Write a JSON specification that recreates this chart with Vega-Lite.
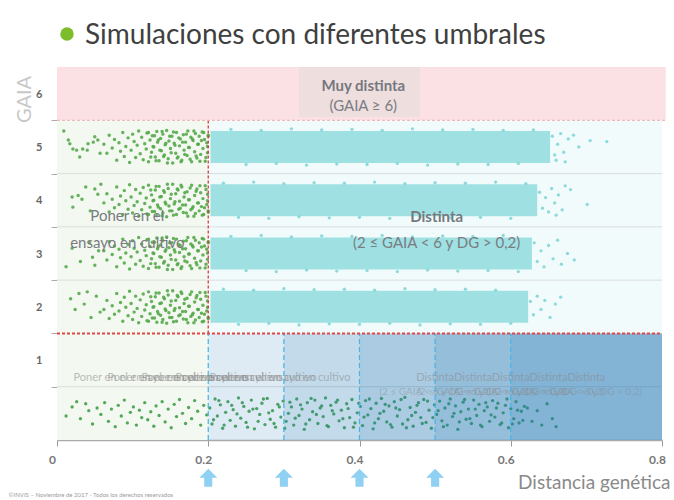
{
"$schema": "https://vega.github.io/schema/vega-lite/v6.json",
"width": 605,
"height": 373,
"autosize": {"type": "none"},
"padding": {"left": 57, "top": 67, "right": 12, "bottom": 60},
"background": "white",
"config": {"view": {"stroke": null}, "font": "Lato"},
"datasets": {
"bg": [
{"x": 0, "x2": 0.805, "y": 5.5, "y2": 6.5, "k": "pink"},
{"x": 0.32, "x2": 0.48, "y": 5.56, "y2": 6.5, "k": "box"},
{"x": 0, "x2": 0.2, "y": -0.5, "y2": 5.5, "k": "gbg"},
{"x": 0.2, "x2": 0.8, "y": 1.5, "y2": 5.5, "k": "cbg"},
{"x": 0.203, "x2": 0.652, "y": 4.7, "y2": 5.3, "k": "cy"},
{"x": 0.203, "x2": 0.635, "y": 3.7, "y2": 4.3, "k": "cy"},
{"x": 0.203, "x2": 0.628, "y": 2.7, "y2": 3.3, "k": "cy"},
{"x": 0.203, "x2": 0.623, "y": 1.7, "y2": 2.3, "k": "cy"}
],
"bands": [
{"x": 0.2, "x2": 0.8, "y": -0.5, "y2": 1.5},
{"x": 0.3, "x2": 0.8, "y": -0.5, "y2": 1.5},
{"x": 0.4, "x2": 0.8, "y": -0.5, "y2": 1.5},
{"x": 0.5, "x2": 0.8, "y": -0.5, "y2": 1.5},
{"x": 0.6, "x2": 0.8, "y": -0.5, "y2": 1.5}
],
"seps": [
{"x": 0, "x2": 0.8, "y": 0.5},
{"x": 0, "x2": 0.8, "y": 2.5},
{"x": 0, "x2": 0.8, "y": 3.5},
{"x": 0, "x2": 0.8, "y": 4.5}
],
"bluelines": [
{"x": 0.2, "y": -0.5, "y2": 1.5},
{"x": 0.3, "y": -0.5, "y2": 1.5},
{"x": 0.4, "y": -0.5, "y2": 1.5},
{"x": 0.5, "y": -0.5, "y2": 1.5},
{"x": 0.6, "y": -0.5, "y2": 1.5}
],
"green": [
{"x":0.009,"y":5.3},{"x":0.015,"y":5.13},{"x":0.017,"y":5.06},{"x":0.021,"y":4.96},{"x":0.026,"y":4.94},{"x":0.03,"y":4.81},{"x":0.034,"y":4.96},{"x":0.04,"y":4.94},{"x":0.041,"y":5.06},{"x":0.048,"y":5.09},{"x":0.05,"y":5.19},{"x":0.054,"y":5.13},{"x":0.057,"y":4.88},
{"x":0.062,"y":5.05},{"x":0.066,"y":4.88},{"x":0.069,"y":5.22},{"x":0.073,"y":4.98},{"x":0.076,"y":5.14},{"x":0.079,"y":4.75},{"x":0.082,"y":5.08},{"x":0.084,"y":4.92},{"x":0.087,"y":5.27},{"x":0.089,"y":4.82},{"x":0.091,"y":5.01},{"x":0.094,"y":5.17},{"x":0.096,"y":4.71},{"x":0.098,"y":4.94},{"x":0.1,"y":5.24},{"x":0.102,"y":5.1},{"x":0.104,"y":4.8},{"x":0.106,"y":5.03},{"x":0.108,"y":5.3},{"x":0.11,"y":4.87},{"x":0.112,"y":5.18},{"x":0.114,"y":4.76},{"x":0.116,"y":5.06},{"x":0.118,"y":4.96},{"x":0.119,"y":5.26},{"x":0.121,"y":4.72},{"x":0.123,"y":5.13},{"x":0.125,"y":4.9},{"x":0.126,"y":5.21},{"x":0.128,"y":5.0},{"x":0.13,"y":4.81},{"x":0.132,"y":5.29},{"x":0.133,"y":5.09},{"x":0.135,"y":4.74},{"x":0.137,"y":5.16},{"x":0.138,"y":4.93},{"x":0.14,"y":5.24},{"x":0.142,"y":4.85},{"x":0.143,"y":5.04},{"x":0.145,"y":5.31},{"x":0.147,"y":4.78},{"x":0.148,"y":5.11},{"x":0.15,"y":4.97},{"x":0.152,"y":5.2},{"x":0.153,"y":4.7},{"x":0.155,"y":5.07},{"x":0.157,"y":4.88},{"x":0.158,"y":5.27},{"x":0.16,"y":4.81},{"x":0.162,"y":5.02},{"x":0.163,"y":5.15},{"x":0.165,"y":4.75},{"x":0.167,"y":5.23},{"x":0.168,"y":4.94},{"x":0.17,"y":5.09},{"x":0.172,"y":4.84},{"x":0.173,"y":5.3},{"x":0.175,"y":4.99},{"x":0.177,"y":5.18},{"x":0.178,"y":4.72},{"x":0.18,"y":5.12},{"x":0.182,"y":4.91},{"x":0.183,"y":5.25},{"x":0.185,"y":4.79},{"x":0.187,"y":5.05},{"x":0.188,"y":5.2},{"x":0.19,"y":4.86},{"x":0.192,"y":5.28},{"x":0.193,"y":4.97},{"x":0.195,"y":5.14},{"x":0.196,"y":4.73},{"x":0.198,"y":5.08},{"x":0.199,"y":4.89},{"x":0.2,"y":5.22},
{"x":0.121,"y":5.27},{"x":0.124,"y":4.81},{"x":0.127,"y":5.01},{"x":0.129,"y":5.21},{"x":0.131,"y":4.74},{"x":0.134,"y":5.13},{"x":0.136,"y":4.94},{"x":0.139,"y":5.29},{"x":0.141,"y":4.82},{"x":0.144,"y":5.07},{"x":0.146,"y":4.7},{"x":0.149,"y":5.2},{"x":0.151,"y":4.89},{"x":0.154,"y":5.28},{"x":0.156,"y":5.03},{"x":0.159,"y":4.79},{"x":0.161,"y":5.17},{"x":0.164,"y":4.72},{"x":0.166,"y":5.09},{"x":0.169,"y":4.86},{"x":0.171,"y":5.24},{"x":0.174,"y":4.99},{"x":0.176,"y":4.77},{"x":0.179,"y":5.15},{"x":0.181,"y":5.3},{"x":0.184,"y":4.83},{"x":0.186,"y":5.05},{"x":0.189,"y":4.73},{"x":0.191,"y":5.12},{"x":0.194,"y":5.27},{"x":0.197,"y":4.8},{"x":0.199,"y":5.01},{"x":0.2,"y":5.2},
{"x":0.02,"y":4.06},{"x":0.021,"y":3.87},{"x":0.028,"y":4.09},{"x":0.033,"y":4.02},{"x":0.038,"y":4.25},{"x":0.044,"y":3.8},{"x":0.05,"y":4.21},{"x":0.054,"y":4.11},{"x":0.058,"y":4.3},
{"x":0.062,"y":3.95},{"x":0.066,"y":4.12},{"x":0.069,"y":3.78},{"x":0.073,"y":4.02},{"x":0.076,"y":3.86},{"x":0.079,"y":4.25},{"x":0.082,"y":3.92},{"x":0.084,"y":4.08},{"x":0.087,"y":3.73},{"x":0.089,"y":4.18},{"x":0.091,"y":3.99},{"x":0.094,"y":3.83},{"x":0.096,"y":4.29},{"x":0.098,"y":4.06},{"x":0.1,"y":3.76},{"x":0.102,"y":3.9},{"x":0.104,"y":4.2},{"x":0.106,"y":3.97},{"x":0.108,"y":3.7},{"x":0.11,"y":4.13},{"x":0.112,"y":3.82},{"x":0.114,"y":4.24},{"x":0.116,"y":3.94},{"x":0.118,"y":4.04},{"x":0.119,"y":3.74},{"x":0.121,"y":4.28},{"x":0.123,"y":3.87},{"x":0.125,"y":4.1},{"x":0.126,"y":3.79},{"x":0.128,"y":4.0},{"x":0.13,"y":4.19},{"x":0.132,"y":3.71},{"x":0.133,"y":3.91},{"x":0.135,"y":4.26},{"x":0.137,"y":3.84},{"x":0.138,"y":4.07},{"x":0.14,"y":3.76},{"x":0.142,"y":4.15},{"x":0.143,"y":3.96},{"x":0.145,"y":3.69},{"x":0.147,"y":4.22},{"x":0.148,"y":3.89},{"x":0.15,"y":4.03},{"x":0.152,"y":3.8},{"x":0.153,"y":4.3},{"x":0.155,"y":3.93},{"x":0.157,"y":4.12},{"x":0.158,"y":3.73},{"x":0.16,"y":4.19},{"x":0.162,"y":3.98},{"x":0.163,"y":3.85},{"x":0.165,"y":4.25},{"x":0.167,"y":3.77},{"x":0.168,"y":4.06},{"x":0.17,"y":3.91},{"x":0.172,"y":4.16},{"x":0.173,"y":3.7},{"x":0.175,"y":4.01},{"x":0.177,"y":3.82},{"x":0.178,"y":4.28},{"x":0.18,"y":3.88},{"x":0.182,"y":4.09},{"x":0.183,"y":3.75},{"x":0.185,"y":4.21},{"x":0.187,"y":3.95},{"x":0.188,"y":3.8},{"x":0.19,"y":4.14},{"x":0.192,"y":3.72},{"x":0.193,"y":4.03},{"x":0.195,"y":3.86},{"x":0.196,"y":4.27},{"x":0.198,"y":3.92},{"x":0.199,"y":4.11},{"x":0.2,"y":3.78},
{"x":0.121,"y":3.73},{"x":0.124,"y":4.19},{"x":0.127,"y":3.99},{"x":0.129,"y":3.79},{"x":0.131,"y":4.26},{"x":0.134,"y":3.87},{"x":0.136,"y":4.06},{"x":0.139,"y":3.71},{"x":0.141,"y":4.18},{"x":0.144,"y":3.93},{"x":0.146,"y":4.3},{"x":0.149,"y":3.8},{"x":0.151,"y":4.11},{"x":0.154,"y":3.72},{"x":0.156,"y":3.97},{"x":0.159,"y":4.21},{"x":0.161,"y":3.83},{"x":0.164,"y":4.28},{"x":0.166,"y":3.91},{"x":0.169,"y":4.14},{"x":0.171,"y":3.76},{"x":0.174,"y":4.01},{"x":0.176,"y":4.23},{"x":0.179,"y":3.85},{"x":0.181,"y":3.7},{"x":0.184,"y":4.17},{"x":0.186,"y":3.95},{"x":0.189,"y":4.27},{"x":0.191,"y":3.88},{"x":0.194,"y":3.73},{"x":0.197,"y":4.2},{"x":0.199,"y":3.99},{"x":0.2,"y":3.8},
{"x":0.012,"y":2.75},{"x":0.02,"y":3.1},{"x":0.031,"y":2.85},{"x":0.043,"y":3.2},{"x":0.047,"y":2.93},{"x":0.05,"y":2.78},{"x":0.055,"y":3.05},
{"x":0.062,"y":3.05},{"x":0.066,"y":2.88},{"x":0.069,"y":3.22},{"x":0.073,"y":2.98},{"x":0.076,"y":3.14},{"x":0.079,"y":2.75},{"x":0.082,"y":3.08},{"x":0.084,"y":2.92},{"x":0.087,"y":3.27},{"x":0.089,"y":2.82},{"x":0.091,"y":3.01},{"x":0.094,"y":3.17},{"x":0.096,"y":2.71},{"x":0.098,"y":2.94},{"x":0.1,"y":3.24},{"x":0.102,"y":3.1},{"x":0.104,"y":2.8},{"x":0.106,"y":3.03},{"x":0.108,"y":3.3},{"x":0.11,"y":2.87},{"x":0.112,"y":3.18},{"x":0.114,"y":2.76},{"x":0.116,"y":3.06},{"x":0.118,"y":2.96},{"x":0.119,"y":3.26},{"x":0.121,"y":2.72},{"x":0.123,"y":3.13},{"x":0.125,"y":2.9},{"x":0.126,"y":3.21},{"x":0.128,"y":3.0},{"x":0.13,"y":2.81},{"x":0.132,"y":3.29},{"x":0.133,"y":3.09},{"x":0.135,"y":2.74},{"x":0.137,"y":3.16},{"x":0.138,"y":2.93},{"x":0.14,"y":3.24},{"x":0.142,"y":2.85},{"x":0.143,"y":3.04},{"x":0.145,"y":3.31},{"x":0.147,"y":2.78},{"x":0.148,"y":3.11},{"x":0.15,"y":2.97},{"x":0.152,"y":3.2},{"x":0.153,"y":2.7},{"x":0.155,"y":3.07},{"x":0.157,"y":2.88},{"x":0.158,"y":3.27},{"x":0.16,"y":2.81},{"x":0.162,"y":3.02},{"x":0.163,"y":3.15},{"x":0.165,"y":2.75},{"x":0.167,"y":3.23},{"x":0.168,"y":2.94},{"x":0.17,"y":3.09},{"x":0.172,"y":2.84},{"x":0.173,"y":3.3},{"x":0.175,"y":2.99},{"x":0.177,"y":3.18},{"x":0.178,"y":2.72},{"x":0.18,"y":3.12},{"x":0.182,"y":2.91},{"x":0.183,"y":3.25},{"x":0.185,"y":2.79},{"x":0.187,"y":3.05},{"x":0.188,"y":3.2},{"x":0.19,"y":2.86},{"x":0.192,"y":3.28},{"x":0.193,"y":2.97},{"x":0.195,"y":3.14},{"x":0.196,"y":2.73},{"x":0.198,"y":3.08},{"x":0.199,"y":2.89},{"x":0.2,"y":3.22},
{"x":0.121,"y":3.27},{"x":0.124,"y":2.81},{"x":0.127,"y":3.01},{"x":0.129,"y":3.21},{"x":0.131,"y":2.74},{"x":0.134,"y":3.13},{"x":0.136,"y":2.94},{"x":0.139,"y":3.29},{"x":0.141,"y":2.82},{"x":0.144,"y":3.07},{"x":0.146,"y":2.7},{"x":0.149,"y":3.2},{"x":0.151,"y":2.89},{"x":0.154,"y":3.28},{"x":0.156,"y":3.03},{"x":0.159,"y":2.79},{"x":0.161,"y":3.17},{"x":0.164,"y":2.72},{"x":0.166,"y":3.09},{"x":0.169,"y":2.86},{"x":0.171,"y":3.24},{"x":0.174,"y":2.99},{"x":0.176,"y":2.77},{"x":0.179,"y":3.15},{"x":0.181,"y":3.3},{"x":0.184,"y":2.83},{"x":0.186,"y":3.05},{"x":0.189,"y":2.73},{"x":0.191,"y":3.12},{"x":0.194,"y":3.27},{"x":0.197,"y":2.8},{"x":0.199,"y":3.01},{"x":0.2,"y":3.2},
{"x":0.018,"y":2.15},{"x":0.024,"y":1.95},{"x":0.029,"y":2.25},{"x":0.036,"y":2.05},{"x":0.04,"y":2.28},{"x":0.045,"y":1.8},{"x":0.052,"y":2.2},{"x":0.057,"y":1.9},
{"x":0.062,"y":1.95},{"x":0.066,"y":2.12},{"x":0.069,"y":1.78},{"x":0.073,"y":2.02},{"x":0.076,"y":1.86},{"x":0.079,"y":2.25},{"x":0.082,"y":1.92},{"x":0.084,"y":2.08},{"x":0.087,"y":1.73},{"x":0.089,"y":2.18},{"x":0.091,"y":1.99},{"x":0.094,"y":1.83},{"x":0.096,"y":2.29},{"x":0.098,"y":2.06},{"x":0.1,"y":1.76},{"x":0.102,"y":1.9},{"x":0.104,"y":2.2},{"x":0.106,"y":1.97},{"x":0.108,"y":1.7},{"x":0.11,"y":2.13},{"x":0.112,"y":1.82},{"x":0.114,"y":2.24},{"x":0.116,"y":1.94},{"x":0.118,"y":2.04},{"x":0.119,"y":1.74},{"x":0.121,"y":2.28},{"x":0.123,"y":1.87},{"x":0.125,"y":2.1},{"x":0.126,"y":1.79},{"x":0.128,"y":2.0},{"x":0.13,"y":2.19},{"x":0.132,"y":1.71},{"x":0.133,"y":1.91},{"x":0.135,"y":2.26},{"x":0.137,"y":1.84},{"x":0.138,"y":2.07},{"x":0.14,"y":1.76},{"x":0.142,"y":2.15},{"x":0.143,"y":1.96},{"x":0.145,"y":1.69},{"x":0.147,"y":2.22},{"x":0.148,"y":1.89},{"x":0.15,"y":2.03},{"x":0.152,"y":1.8},{"x":0.153,"y":2.3},{"x":0.155,"y":1.93},{"x":0.157,"y":2.12},{"x":0.158,"y":1.73},{"x":0.16,"y":2.19},{"x":0.162,"y":1.98},{"x":0.163,"y":1.85},{"x":0.165,"y":2.25},{"x":0.167,"y":1.77},{"x":0.168,"y":2.06},{"x":0.17,"y":1.91},{"x":0.172,"y":2.16},{"x":0.173,"y":1.7},{"x":0.175,"y":2.01},{"x":0.177,"y":1.82},{"x":0.178,"y":2.28},{"x":0.18,"y":1.88},{"x":0.182,"y":2.09},{"x":0.183,"y":1.75},{"x":0.185,"y":2.21},{"x":0.187,"y":1.95},{"x":0.188,"y":1.8},{"x":0.19,"y":2.14},{"x":0.192,"y":1.72},{"x":0.193,"y":2.03},{"x":0.195,"y":1.86},{"x":0.196,"y":2.27},{"x":0.198,"y":1.92},{"x":0.199,"y":2.11},{"x":0.2,"y":1.78},
{"x":0.121,"y":1.73},{"x":0.124,"y":2.19},{"x":0.127,"y":1.99},{"x":0.129,"y":1.79},{"x":0.131,"y":2.26},{"x":0.134,"y":1.87},{"x":0.136,"y":2.06},{"x":0.139,"y":1.71},{"x":0.141,"y":2.18},{"x":0.144,"y":1.93},{"x":0.146,"y":2.3},{"x":0.149,"y":1.8},{"x":0.151,"y":2.11},{"x":0.154,"y":1.72},{"x":0.156,"y":1.97},{"x":0.159,"y":2.21},{"x":0.161,"y":1.83},{"x":0.164,"y":2.28},{"x":0.166,"y":1.91},{"x":0.169,"y":2.14},{"x":0.171,"y":1.76},{"x":0.174,"y":2.01},{"x":0.176,"y":2.23},{"x":0.179,"y":1.85},{"x":0.181,"y":1.7},{"x":0.184,"y":2.17},{"x":0.186,"y":1.95},{"x":0.189,"y":2.27},{"x":0.191,"y":1.88},{"x":0.194,"y":1.73},{"x":0.197,"y":2.2},{"x":0.199,"y":1.99},{"x":0.2,"y":1.8}
],
"tail": [
{"x":0.655,"y":5.2},{"x":0.658,"y":4.85},{"x":0.66,"y":4.75},{"x":0.662,"y":5.05},{"x":0.666,"y":5.25},{"x":0.67,"y":4.9},{"x":0.672,"y":4.72},{"x":0.676,"y":5.15},{"x":0.683,"y":5.22},{"x":0.69,"y":5.0},{"x":0.705,"y":5.12},{"x":0.727,"y":5.1},
{"x":0.638,"y":4.15},{"x":0.642,"y":3.85},{"x":0.646,"y":4.05},{"x":0.65,"y":3.78},{"x":0.654,"y":4.22},{"x":0.658,"y":3.95},{"x":0.66,"y":3.72},{"x":0.663,"y":4.1},{"x":0.668,"y":3.82},{"x":0.672,"y":4.27},{"x":0.679,"y":4.2},{"x":0.701,"y":3.92},
{"x":0.631,"y":3.2},{"x":0.635,"y":2.85},{"x":0.64,"y":3.05},{"x":0.644,"y":2.75},{"x":0.65,"y":3.15},{"x":0.656,"y":2.9},{"x":0.662,"y":3.25},{"x":0.667,"y":2.8},{"x":0.675,"y":3.0},{"x":0.684,"y":2.88},
{"x":0.626,"y":2.1},{"x":0.63,"y":1.85},{"x":0.635,"y":2.2},{"x":0.64,"y":1.95},{"x":0.645,"y":2.12},{"x":0.652,"y":1.8},{"x":0.659,"y":2.05},{"x":0.666,"y":2.18},
{"x":0.23,"y":5.33},{"x":0.27,"y":5.31},{"x":0.31,"y":5.34},{"x":0.35,"y":5.32},{"x":0.39,"y":5.33},{"x":0.43,"y":5.31},{"x":0.47,"y":5.34},{"x":0.51,"y":5.32},{"x":0.55,"y":5.33},{"x":0.59,"y":5.31},{"x":0.63,"y":5.32},
{"x":0.25,"y":4.67},{"x":0.29,"y":4.69},{"x":0.33,"y":4.66},{"x":0.37,"y":4.68},{"x":0.41,"y":4.67},{"x":0.45,"y":4.69},{"x":0.49,"y":4.66},{"x":0.53,"y":4.68},{"x":0.57,"y":4.67},{"x":0.61,"y":4.69},
{"x":0.22,"y":4.32},{"x":0.26,"y":4.34},{"x":0.3,"y":4.31},{"x":0.34,"y":4.33},{"x":0.38,"y":4.32},{"x":0.42,"y":4.34},{"x":0.46,"y":4.31},{"x":0.5,"y":4.33},{"x":0.54,"y":4.32},{"x":0.58,"y":4.34},{"x":0.62,"y":4.31},
{"x":0.24,"y":3.68},{"x":0.28,"y":3.66},{"x":0.32,"y":3.69},{"x":0.36,"y":3.67},{"x":0.4,"y":3.68},{"x":0.44,"y":3.66},{"x":0.48,"y":3.69},{"x":0.52,"y":3.67},{"x":0.56,"y":3.68},{"x":0.6,"y":3.66},
{"x":0.23,"y":3.32},{"x":0.27,"y":3.34},{"x":0.31,"y":3.31},{"x":0.35,"y":3.33},{"x":0.39,"y":3.32},{"x":0.43,"y":3.34},{"x":0.47,"y":3.31},{"x":0.51,"y":3.33},{"x":0.55,"y":3.32},{"x":0.59,"y":3.34},
{"x":0.25,"y":2.68},{"x":0.29,"y":2.66},{"x":0.33,"y":2.69},{"x":0.37,"y":2.67},{"x":0.41,"y":2.68},{"x":0.45,"y":2.66},{"x":0.49,"y":2.69},{"x":0.53,"y":2.67},{"x":0.57,"y":2.68},{"x":0.61,"y":2.66},
{"x":0.22,"y":2.33},{"x":0.26,"y":2.31},{"x":0.3,"y":2.34},{"x":0.34,"y":2.32},{"x":0.38,"y":2.33},{"x":0.42,"y":2.31},{"x":0.46,"y":2.34},{"x":0.5,"y":2.32},{"x":0.54,"y":2.33},{"x":0.58,"y":2.31},
{"x":0.24,"y":1.67},{"x":0.28,"y":1.69},{"x":0.32,"y":1.66},{"x":0.36,"y":1.68},{"x":0.4,"y":1.67},{"x":0.44,"y":1.69},{"x":0.48,"y":1.66},{"x":0.52,"y":1.68},{"x":0.56,"y":1.67},{"x":0.6,"y":1.69}
],
"bottom": [
{"x":0.012,"y":-0.05},{"x":0.02,"y":0.12},{"x":0.026,"y":0.22},{"x":0.031,"y":-0.1},{"x":0.038,"y":0.18},{"x":0.042,"y":0.05},{"x":0.047,"y":-0.2},{"x":0.053,"y":0.1},{"x":0.058,"y":-0.02},{"x":0.063,"y":0.2},{"x":0.068,"y":-0.15},{"x":0.072,"y":0.08},{"x":0.077,"y":-0.25},{"x":0.081,"y":0.15},{"x":0.085,"y":-0.05},{"x":0.089,"y":0.25},{"x":0.093,"y":-0.18},{"x":0.097,"y":0.02},{"x":0.101,"y":0.12},{"x":0.105,"y":-0.22},{"x":0.109,"y":0.06},{"x":0.112,"y":-0.08},{"x":0.116,"y":0.2},{"x":0.12,"y":-0.12},{"x":0.124,"y":0.03},{"x":0.128,"y":-0.24},{"x":0.131,"y":0.14},{"x":0.135,"y":-0.04},{"x":0.139,"y":0.22},{"x":0.143,"y":-0.16},{"x":0.147,"y":0.08},{"x":0.151,"y":-0.27},{"x":0.155,"y":0.17},{"x":0.158,"y":-0.06},{"x":0.162,"y":0.26},{"x":0.166,"y":0.0},{"x":0.17,"y":-0.19},{"x":0.174,"y":0.11},{"x":0.178,"y":-0.1},{"x":0.182,"y":0.24},{"x":0.186,"y":0.04},{"x":0.19,"y":-0.22},{"x":0.194,"y":0.15},{"x":0.198,"y":-0.03},
{"x":0.202,"y":0.1},{"x":0.205,"y":-0.2},{"x":0.209,"y":0.27},{"x":0.212,"y":-0.05},{"x":0.216,"y":0.16},{"x":0.219,"y":-0.28},{"x":0.223,"y":0.02},{"x":0.226,"y":0.22},{"x":0.229,"y":-0.13},{"x":0.233,"y":0.07},{"x":0.236,"y":-0.24},{"x":0.24,"y":0.29},{"x":0.243,"y":-0.09},{"x":0.247,"y":0.13},{"x":0.25,"y":-0.17},{"x":0.254,"y":0.04},{"x":0.257,"y":0.25},{"x":0.261,"y":-0.29},{"x":0.264,"y":0.09},{"x":0.268,"y":-0.02},{"x":0.271,"y":0.19},{"x":0.275,"y":-0.21},{"x":0.278,"y":0.28},{"x":0.282,"y":-0.11},{"x":0.285,"y":0.05},{"x":0.289,"y":-0.26},{"x":0.292,"y":0.17},{"x":0.296,"y":-0.07},{"x":0.299,"y":0.23},{"x":0.303,"y":-0.15},{"x":0.306,"y":0.0},{"x":0.31,"y":0.12},{"x":0.313,"y":-0.22},{"x":0.317,"y":0.27},{"x":0.32,"y":-0.04},{"x":0.324,"y":0.08},{"x":0.327,"y":-0.3},{"x":0.331,"y":0.2},{"x":0.334,"y":-0.12},{"x":0.338,"y":0.03},{"x":0.341,"y":0.25},{"x":0.345,"y":-0.19},{"x":0.348,"y":0.1},{"x":0.352,"y":-0.06},{"x":0.355,"y":0.29},{"x":0.359,"y":-0.25},{"x":0.362,"y":0.15},{"x":0.366,"y":-0.01},{"x":0.369,"y":0.21},{"x":0.373,"y":-0.14},{"x":0.376,"y":0.06},{"x":0.38,"y":-0.27},{"x":0.383,"y":0.18},{"x":0.387,"y":-0.08},{"x":0.39,"y":0.26},{"x":0.394,"y":-0.18},{"x":0.397,"y":0.01},{"x":0.401,"y":0.13},{"x":0.404,"y":-0.23},{"x":0.408,"y":0.24},{"x":0.411,"y":-0.03},{"x":0.415,"y":0.09},{"x":0.418,"y":-0.29},{"x":0.422,"y":0.19},{"x":0.425,"y":-0.1},{"x":0.429,"y":0.28},{"x":0.432,"y":0.04},{"x":0.436,"y":-0.16},{"x":0.439,"y":0.14},{"x":0.443,"y":-0.26},{"x":0.446,"y":0.22},{"x":0.45,"y":-0.05},{"x":0.453,"y":0.07},{"x":0.457,"y":-0.2},{"x":0.46,"y":0.3},{"x":0.464,"y":-0.12},{"x":0.467,"y":0.11},{"x":0.471,"y":-0.24},{"x":0.474,"y":0.02},{"x":0.478,"y":0.2},{"x":0.481,"y":-0.08},{"x":0.485,"y":0.26},{"x":0.488,"y":-0.17},{"x":0.492,"y":0.06},{"x":0.495,"y":-0.28},{"x":0.499,"y":0.16},{"x":0.502,"y":-0.02},{"x":0.506,"y":0.23},{"x":0.509,"y":-0.14},{"x":0.513,"y":0.1},{"x":0.516,"y":-0.22},{"x":0.52,"y":0.27},{"x":0.523,"y":-0.06},{"x":0.527,"y":0.14},{"x":0.53,"y":-0.3},{"x":0.534,"y":0.03},{"x":0.537,"y":0.21},{"x":0.541,"y":-0.11},{"x":0.544,"y":0.08},{"x":0.548,"y":-0.19},{"x":0.551,"y":0.25},{"x":0.555,"y":-0.04},{"x":0.558,"y":0.17},{"x":0.562,"y":-0.25},{"x":0.565,"y":0.05},{"x":0.569,"y":0.12},{"x":0.572,"y":-0.15},{"x":0.576,"y":0.24},{"x":0.579,"y":-0.07},{"x":0.583,"y":0.19},{"x":0.586,"y":-0.21},{"x":0.59,"y":0.01},{"x":0.593,"y":0.15},{"x":0.597,"y":-0.27},{"x":0.6,"y":0.09},{"x":0.604,"y":-0.1},{"x":0.607,"y":0.22},{"x":0.611,"y":-0.18},{"x":0.614,"y":0.04},{"x":0.618,"y":0.13},
{"x":0.207,"y":-0.12},{"x":0.214,"y":0.24},{"x":0.221,"y":-0.22},{"x":0.231,"y":0.15},{"x":0.238,"y":-0.01},{"x":0.245,"y":0.2},{"x":0.252,"y":-0.26},{"x":0.259,"y":0.08},{"x":0.266,"y":-0.15},{"x":0.273,"y":0.27},{"x":0.28,"y":0.01},{"x":0.287,"y":-0.19},{"x":0.294,"y":0.12},{"x":0.301,"y":-0.28},{"x":0.308,"y":0.21},{"x":0.315,"y":-0.09},{"x":0.322,"y":0.16},{"x":0.329,"y":-0.2},{"x":0.336,"y":0.28},{"x":0.343,"y":-0.02},{"x":0.35,"y":0.14},{"x":0.357,"y":-0.23},{"x":0.364,"y":0.05},{"x":0.371,"y":0.25},{"x":0.378,"y":-0.1},{"x":0.385,"y":0.09},{"x":0.392,"y":-0.26},{"x":0.399,"y":0.19},{"x":0.406,"y":-0.07},{"x":0.413,"y":0.27},{"x":0.42,"y":-0.18},{"x":0.427,"y":0.0},{"x":0.434,"y":0.17},{"x":0.441,"y":-0.21},{"x":0.448,"y":0.1},{"x":0.455,"y":0.26},{"x":0.462,"y":-0.27},{"x":0.469,"y":-0.04},{"x":0.476,"y":0.15},{"x":0.483,"y":-0.19},{"x":0.49,"y":0.23},{"x":0.497,"y":-0.08},{"x":0.504,"y":0.05},{"x":0.511,"y":-0.25},{"x":0.518,"y":0.18},{"x":0.525,"y":0.0},{"x":0.532,"y":-0.16},{"x":0.539,"y":0.26},{"x":0.546,"y":-0.1},{"x":0.553,"y":0.08},{"x":0.56,"y":-0.22},{"x":0.567,"y":0.2},{"x":0.574,"y":-0.03},{"x":0.581,"y":0.1},{"x":0.588,"y":-0.18},{"x":0.595,"y":0.27},{"x":0.602,"y":-0.2},{"x":0.609,"y":0.06},{"x":0.616,"y":-0.13},
{"x":0.622,"y":0.1},{"x":0.628,"y":-0.15},{"x":0.635,"y":0.05},{"x":0.641,"y":-0.22},{"x":0.648,"y":0.18},{"x":0.655,"y":-0.1},{"x":0.66,"y":-0.25}
],
"labels": [
{"t": "Simulaciones con diferentes umbrales", "x": 0.037, "y": 6.93, "k": "t"},
{"t": "Muy distinta", "x": 0.405, "y": 6.14, "k": "b"},
{"t": "Distinta", "x": 0.502, "y": 3.68, "k": "b"},
{"t": "(GAIA ≥ 6)", "x": 0.405, "y": 5.77, "k": "n"},
{"t": "(2 ≤ GAIA < 6 y DG > 0,2)", "x": 0.502, "y": 3.2, "k": "n"},
{"t": "Poner en el", "x": 0.093, "y": 3.7, "k": "n"},
{"t": "ensayo en cultivo", "x": 0.093, "y": 3.2, "k": "n"},
{"t": "Poner en el ensayo en cultivo", "x": 0.115, "y": 0.66, "k": "g"},
{"t": "Poner en el ensayo en cultivo", "x": 0.16, "y": 0.66, "k": "g"},
{"t": "Poner en el ensayo en cultivo", "x": 0.205, "y": 0.66, "k": "g"},
{"t": "Poner en el ensayo en cultivo", "x": 0.25, "y": 0.66, "k": "g"},
{"t": "Poner en el ensayo en cultivo", "x": 0.295, "y": 0.66, "k": "g"},
{"t": "Distinta", "x": 0.5, "y": 0.66, "k": "g"},
{"t": "Distinta", "x": 0.55, "y": 0.66, "k": "g"},
{"t": "Distinta", "x": 0.6, "y": 0.66, "k": "g"},
{"t": "Distinta", "x": 0.65, "y": 0.66, "k": "g"},
{"t": "Distinta", "x": 0.7, "y": 0.66, "k": "g"},
{"t": "(2 ≤ GAIA < 6 y DG > 0,2)", "x": 0.5, "y": 0.4, "k": "s"},
{"t": "(2 ≤ GAIA < 6 y DG > 0,2)", "x": 0.55, "y": 0.4, "k": "s"},
{"t": "(2 ≤ GAIA < 6 y DG > 0,2)", "x": 0.6, "y": 0.4, "k": "s"},
{"t": "(2 ≤ GAIA < 6 y DG > 0,2)", "x": 0.65, "y": 0.4, "k": "s"},
{"t": "(2 ≤ GAIA < 6 y DG > 0,2)", "x": 0.7, "y": 0.4, "k": "s"},
{"t": "©INVIS – Noviembre de 2017 - Todos los derechos reservados", "x": -0.064, "y": -1.53, "k": "f"}
],
"arrows": [
{"x": 0.2, "y": -1.21}, {"x": 0.3, "y": -1.21}, {"x": 0.4, "y": -1.21}, {"x": 0.5, "y": -1.21}
],
"bullet": [{"x": 0.0132, "y": 7.12}]
},
"encoding": {
"x": {"field": "x", "type": "quantitative", "scale": {"domain": [0, 0.8], "nice": false, "zero": false},
  "axis": {"values": [0, 0.2, 0.4, 0.6, 0.8], "labelExpr": "datum.value == 0 ? '0' : format(datum.value, '.1f')", "grid": false, "labelFlush": false, "labelFontSize": 12, "labelColor": "#777777", "labelFontWeight": "bold", "labelPadding": 8, "labelOffset": -5, "tickSize": 6, "tickColor": "#999999", "domainColor": "#aaaaaa", "domainWidth": 1.5,
   "title": "Distancia genética", "titleFontSize": 19, "titleFontWeight": "normal", "titleColor": "#8a8a8a", "titleX": 613, "titleY": 48, "titleAlign": "right", "titleAnchor": null, "titleBaseline": "alphabetic"}},
"y": {"field": "y", "type": "quantitative", "scale": {"domain": [-0.5, 6.5], "nice": false, "zero": false},
  "axis": {"values": [0.5, 1.5, 2.5, 3.5, 4.5, 5.5], "labelExpr": "format(datum.value + 0.5, 'd')", "labelOffset": -26, "grid": false, "labelFontSize": 11, "labelColor": "#666666", "labelFontWeight": "bold", "labelPadding": 9, "tickSize": 6, "tickColor": "#aaaaaa", "domainColor": "#bbbbbb", "domainWidth": 1,
   "title": "GAIA", "titleFontSize": 20, "titleFontWeight": "normal", "titleColor": "#c8c8c8", "titleX": -33, "titleY": 32, "titleAngle": -90, "titleAlign": "center", "titleBaseline": "middle"}}
},
"layer": [
{"data": {"name": "bg"}, "mark": {"type": "rect"},
 "encoding": {"x2": {"field": "x2"}, "y2": {"field": "y2"},
  "color": {"field": "k", "type": "nominal", "legend": null, "scale": {"domain": ["pink", "box", "gbg", "cbg", "cy"], "range": ["#fbe1e4", "#efdede", "#f3f8f0", "#f2fbfb", "#9fe1e2"]}}}},
{"data": {"name": "seps"}, "mark": {"type": "rule", "color": "#dddddd", "strokeWidth": 1}, "encoding": {"x2": {"field": "x2"}}},
{"data": {"name": "tail"}, "mark": {"type": "circle", "color": "#86d8da", "size": 11, "opacity": 0.95}, "encoding": {}},
{"data": {"name": "green"}, "mark": {"type": "circle", "color": "#55a94b", "size": 12, "opacity": 0.9}, "encoding": {}},
{"data": {"name": "bottom"}, "mark": {"type": "circle", "color": "#3f9e4a", "size": 11, "opacity": 0.9}, "encoding": {}},
{"data": {"name": "bands"}, "mark": {"type": "rect", "color": "#1f77b4", "opacity": 0.15}, "encoding": {"x2": {"field": "x2"}, "y2": {"field": "y2"}}},
{"data": {"name": "bluelines"}, "mark": {"type": "rule", "color": "#45b4e6", "strokeWidth": 1.2, "strokeDash": [5, 3]}, "encoding": {"y2": {"field": "y2"}}},
{"data": {"values": [{"x": 0.2, "y": 1.5, "y2": 5.5}]}, "mark": {"type": "rule", "color": "#e03a3a", "strokeWidth": 1.3, "strokeDash": [3, 2]}, "encoding": {"y2": {"field": "y2"}}},
{"data": {"values": [{"x": 0, "x2": 0.8, "y": 1.5}]}, "mark": {"type": "rule", "color": "#e04848", "strokeWidth": 2, "strokeDash": [3, 2]}, "encoding": {"x2": {"field": "x2"}}},
{"data": {"values": [{"x": 0, "x2": 0.805, "y": 5.5}]}, "mark": {"type": "rule", "color": "#f2a6ae", "strokeWidth": 1, "strokeDash": [3, 2]}, "encoding": {"x2": {"field": "x2"}}},
{"data": {"name": "labels"}, "transform": [{"filter": "datum.k == 'g'"}], "mark": {"type": "text", "fontSize": 11, "color": "#8c8c8c", "opacity": 0.55}, "encoding": {"text": {"field": "t"}}},
{"data": {"name": "labels"}, "transform": [{"filter": "datum.k == 's'"}], "mark": {"type": "text", "fontSize": 10, "color": "#8c8c8c", "opacity": 0.45}, "encoding": {"text": {"field": "t"}}},
{"data": {"name": "labels"}, "transform": [{"filter": "datum.k == 'b'"}], "mark": {"type": "text", "fontSize": 15, "fontWeight": "bold", "color": "#76787e"}, "encoding": {"text": {"field": "t"}}},
{"data": {"name": "labels"}, "transform": [{"filter": "datum.k == 'n'"}], "mark": {"type": "text", "fontSize": 15, "color": "#7a7c82"}, "encoding": {"text": {"field": "t"}}},
{"data": {"name": "labels"}, "transform": [{"filter": "datum.k == 't'"}], "mark": {"type": "text", "fontSize": 28, "color": "#404040", "align": "left", "baseline": "alphabetic"}, "encoding": {"text": {"field": "t"}}},
{"data": {"name": "labels"}, "transform": [{"filter": "datum.k == 'f'"}], "mark": {"type": "text", "fontSize": 6, "color": "#9a9a9a", "align": "left"}, "encoding": {"text": {"field": "t"}}},
{"data": {"name": "arrows"}, "mark": {"type": "point", "shape": "M0,-1 L1,0 L0.45,0 L0.45,1 L-0.45,1 L-0.45,0 L-1,0 Z", "filled": true, "color": "#8fd0f3", "size": 324, "opacity": 1}, "encoding": {}},
{"data": {"name": "bullet"}, "mark": {"type": "circle", "color": "#7dbd2c", "size": 180, "opacity": 1}, "encoding": {}}
]
}
